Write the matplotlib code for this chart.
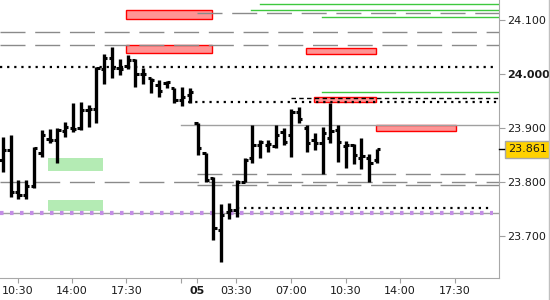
import matplotlib
matplotlib.use('Agg')
import matplotlib.pyplot as plt
from matplotlib.patches import Rectangle

# 30 minute OHLC bars, two sessions
opens = [23.841, 23.860, 23.782, 23.777, 23.793, 23.854, 23.880, 23.878, 23.895, 23.901,
         23.901, 23.934, 23.936, 24.010, 24.030, 24.012, 24.015, 24.027, 24.001, 23.993,
         23.980, 23.984, 23.975, 23.952, 23.962,
         23.910, 23.854, 23.808, 23.712, 23.745, 23.749, 23.801, 23.845, 23.869, 23.869,
         23.867, 23.893, 23.888, 23.930, 23.901, 23.878, 23.873, 23.882, 23.897, 23.867,
         23.869, 23.845, 23.845, 23.841]
highs = [23.884, 23.888, 23.804, 23.804, 23.865, 23.897, 23.899, 23.901, 23.912, 23.947,
         23.949, 23.943, 24.014, 24.038, 24.051, 24.028, 24.036, 24.028, 24.012, 23.993,
         23.990, 23.988, 23.975, 23.977, 23.975,
         23.910, 23.854, 23.810, 23.760, 23.762, 23.804, 23.845, 23.906, 23.878, 23.878,
         23.906, 23.901, 23.936, 23.940, 23.906, 23.891, 23.902, 23.947, 23.906, 23.877,
         23.871, 23.882, 23.852, 23.862]
lows = [23.819, 23.773, 23.769, 23.769, 23.790, 23.847, 23.873, 23.836, 23.884, 23.893,
        23.897, 23.902, 23.910, 23.982, 23.993, 23.999, 24.010, 23.977, 23.982, 23.965,
        23.958, 23.975, 23.947, 23.941, 23.947,
        23.851, 23.801, 23.693, 23.652, 23.732, 23.736, 23.801, 23.836, 23.845, 23.856,
        23.864, 23.869, 23.847, 23.910, 23.856, 23.860, 23.815, 23.873, 23.838, 23.827,
        23.834, 23.825, 23.801, 23.836]
closes = [23.860, 23.782, 23.777, 23.793, 23.864, 23.888, 23.878, 23.897, 23.902, 23.899,
          23.934, 23.936, 24.012, 24.030, 24.012, 24.010, 24.027, 24.001, 24.001, 23.990,
          23.969, 23.986, 23.952, 23.958, 23.967,
          23.864, 23.804, 23.715, 23.740, 23.749, 23.801, 23.841, 23.869, 23.875, 23.871,
          23.888, 23.875, 23.930, 23.917, 23.873, 23.873, 23.891, 23.895, 23.875, 23.869,
          23.851, 23.849, 23.836, 23.861]
last_price = 23.861

# levels: (price, from bar, to bar)
gray_dashed = [(24.078, -0.4, 63.7), (24.054, -0.4, 63.7), (23.800, -0.4, 63.7),
               (24.113, 24.9, 63.7), (23.815, 24.9, 63.7), (23.795, 24.9, 63.7)]
black_dotted = [(24.014, -0.4, 62.9), (23.949, 22.9, 63.7), (23.753, 30.0, 62.9)]
black_dashed = [(23.957, 37.0, 63.7)]
green_lines = [(24.130, 33.0, 63.7), (24.119, 31.8, 63.7), (24.106, 40.9, 63.7),
               (23.967, 40.9, 63.7)]
gray_solid = [(23.907, 22.9, 63.7), (23.744, -0.4, 63.7)]
purple_dotted = [(23.744, -0.3, 62.9)]

# zones: (x0, x1, low, high)
red_zones = [(15.8, 26.8, 24.1018, 24.1185), (15.8, 26.8, 24.040, 24.0543),
             (38.9, 47.9, 24.037, 24.048), (39.9, 47.9, 23.948, 23.958),
             (47.9, 58.1, 23.895, 23.907)]
green_zones = [(5.85, 12.8, 23.8215, 23.845), (5.85, 12.8, 23.746, 23.767)]

tick_pos = [1.9, 8.9, 15.85, 22.85, 24.95, 29.95, 36.95, 43.95, 50.95, 57.95]
tick_lbl = ['10:30', '14:00', '17:30', '', '05', '03:30', '07:00', '10:30', '14:00', '17:30']
price_ticks = [23.7, 23.8, 23.9, 24.0, 24.1]

fig = plt.figure(figsize=(5.5, 3), dpi=100)
ax = fig.add_axes([0, 22 / 300, 499 / 550, 278 / 300])

for x0, x1, lo, hi in green_zones:
    ax.add_patch(Rectangle((x0, lo), x1 - x0, hi - lo, facecolor='#b4ebb4', edgecolor='none', zorder=1))
for x0, x1, lo, hi in red_zones:
    ax.add_patch(Rectangle((x0, lo), x1 - x0, hi - lo, facecolor='#ff9494', edgecolor='#ff0000', lw=1, zorder=1))

for p, a, b in gray_solid:
    ax.plot([a, b], [p, p], color='#a0a0a0', lw=1, zorder=2)
for p, a, b in gray_dashed:
    ax.plot([a, b], [p, p], color='#8a8a8a', lw=1, dashes=(18, 7), zorder=2)
for p, a, b in green_lines:
    ax.plot([a, b], [p, p], color='#3ec83e', lw=1, zorder=2)
for p, a, b in black_dotted:
    ax.plot([a, b], [p, p], color='black', lw=1.6, dashes=(1, 2.2), zorder=2)
for p, a, b in black_dashed:
    ax.plot([a, b], [p, p], color='black', lw=1, dashes=(3.2, 2.4), zorder=2)
for p, a, b in purple_dotted:
    ax.plot([a, b], [p, p], color='#c48ee6', lw=3, dashes=(0.85, 1.55), zorder=2)

# ohlc bars
xs = list(range(len(opens)))
ax.vlines(xs, lows, highs, color='black', lw=2.4, zorder=3)
ax.hlines(opens, [x - 0.42 for x in xs], xs, color='black', lw=2.2, zorder=3)
ax.hlines(closes, xs, [x + 0.42 for x in xs], color='black', lw=2.2, zorder=3)

ax.set_xlim(-0.35, 63.63)
ax.set_ylim(23.6228, 24.1376)

for s in ['left', 'top']:
    ax.spines[s].set_visible(False)
for s in ['right', 'bottom']:
    ax.spines[s].set_color('#a8a8a8')

ax.yaxis.tick_right()
ax.set_yticks(price_ticks)
ax.set_yticklabels(['%.3f' % p for p in price_ticks])
ax.set_xticks(tick_pos)
ax.set_xticklabels(tick_lbl)
ax.tick_params(axis='both', colors='#a0a0a0', labelcolor='#1a1a1a', labelsize=8)
ax.tick_params(axis='y', length=4, pad=2)
ax.tick_params(axis='x', length=3.5, pad=2.5)
for t in ax.get_yticklabels():
    if t.get_text() == '24.000':
        t.set_fontweight('bold')
for t in ax.get_xticklabels():
    if t.get_text() == '05':
        t.set_fontweight('bold')

# last price marker
ax.plot([63.63, 64.3], [last_price, last_price], color='black', lw=1, clip_on=False, zorder=4)
ax.text(1.018, last_price, '%.3f' % last_price, transform=ax.get_yaxis_transform(),
        ha='left', va='center', fontsize=8, color='#1a1a1a',
        bbox=dict(boxstyle='square,pad=0.3', facecolor='#ffd200', edgecolor='#a8a8a8', lw=1))

fig.add_artist(plt.Line2D([548.5 / 550, 548.5 / 550], [0, 1], color='#c0c0c0', lw=1))

plt.savefig('out.png', dpi=100)
